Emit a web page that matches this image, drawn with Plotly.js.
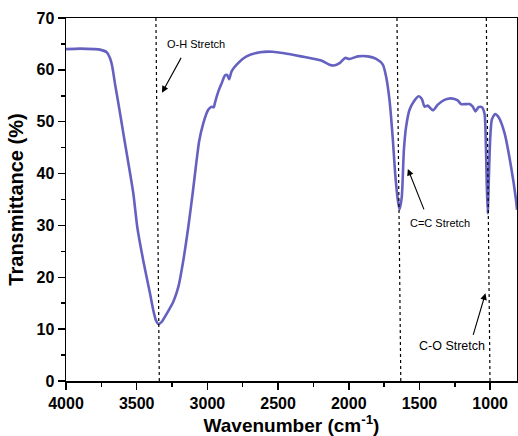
<!DOCTYPE html>
<html>
<head>
<meta charset="utf-8">
<script src="https://cdn.plot.ly/plotly-3.0.1.min.js"></script>
<style>html,body{margin:0;padding:0;background:#fff;}#chart{width:518px;height:436px;}</style>
</head>
<body>
<div id="chart"></div>
<script>
// FTIR spectrum
var wavenumber = [4000, 3900, 3800, 3760, 3712, 3689, 3673, 3654, 3630, 3606, 3583, 3560, 3524, 3496, 3454, 3406, 3383, 3364, 3347, 3320, 3300, 3241, 3205, 3170, 3135, 3104, 3076, 3058, 3029, 2994, 2970, 2954, 2947, 2923, 2899, 2876, 2860, 2846, 2829, 2793, 2723, 2628, 2540, 2454, 2337, 2195, 2136, 2105, 2065, 2026, 1994, 1936, 1865, 1806, 1759, 1736, 1712, 1688, 1672, 1653, 1641, 1625, 1610, 1594, 1570, 1540, 1506, 1483, 1464, 1441, 1405, 1370, 1323, 1276, 1229, 1206, 1146, 1123, 1104, 1082, 1059, 1040, 1031, 1024, 1017, 1010, 1000, 988, 965, 941, 898, 852, 817, 810];
var transmittance = [64.0, 64.1, 64.0, 63.9, 63.4, 62.3, 60.7, 57.4, 53.6, 49.7, 45.9, 42.2, 36.2, 29.7, 23.3, 16.9, 13.7, 11.7, 11.0, 11.5, 12.4, 15.3, 18.2, 23.3, 29.7, 36.2, 42.6, 46.3, 49.7, 52.3, 52.9, 52.8, 53.6, 55.8, 57.4, 58.9, 59.0, 58.2, 59.7, 61.0, 62.6, 63.4, 63.5, 63.2, 62.6, 61.8, 61.0, 60.85, 61.3, 62.3, 62.1, 62.6, 62.6, 62.1, 61.0, 58.7, 54.2, 46.5, 40.1, 34.9, 33.1, 35.5, 44.6, 49.1, 52.3, 53.9, 54.9, 54.4, 52.9, 53.1, 52.2, 53.3, 54.2, 54.5, 54.1, 53.4, 53.4, 52.9, 52.0, 52.8, 52.8, 51.6, 46.5, 38.1, 32.3, 38.2, 46.5, 50.4, 51.5, 50.9, 47.8, 41.3, 34.9, 33.0];

// Peak marker lines (top and bottom wavenumbers) and labels
var peakNames = ["O-H Stretch", "C=C Stretch", "C-O Stretch"];
var peakTopWn = [3364, 1659, 1027];
var peakBottomWn = [3340, 1632, 1001];
var labelWn = [3084, 1352, 1268];
var labelT = [65.0, 30.5, 6.8];
var labelSize = [11, 11, 12.5];
var arrowHeadWn = [3321, 1582, 1033];
var arrowHeadT = [55.6, 40.9, 16.9];
var arrowTailWn = [3180, 1464, 1123];
var arrowTailT = [62.6, 32.8, 8.6];

var fontFam = "Arial, 'Liberation Sans', sans-serif";

var shapes = [];
var annotations = [];
for (var i = 0; i < peakNames.length; i++) {
  shapes.push({type: 'line', xref: 'x', yref: 'y', x0: peakTopWn[i], y0: 70, x1: peakBottomWn[i], y1: 0,
    line: {color: '#000', width: 1.2, dash: 'dot'}});
  annotations.push({x: labelWn[i], y: labelT[i], xref: 'x', yref: 'y', text: peakNames[i], showarrow: false,
    font: {family: fontFam, size: labelSize[i], color: '#000'}});
  annotations.push({x: arrowHeadWn[i], y: arrowHeadT[i], xref: 'x', yref: 'y', ax: arrowTailWn[i], ay: arrowTailT[i],
    axref: 'x', ayref: 'y', text: '', showarrow: true, arrowhead: 2, arrowsize: 1.2, arrowwidth: 1.1, arrowcolor: '#000', standoff: 0, startstandoff: 0});
}

var trace = {x: wavenumber, y: transmittance, type: 'scatter', mode: 'lines',
  line: {color: '#6461c0', width: 2.6, shape: 'spline', smoothing: 0.6}, hoverinfo: 'skip'};

var layout = {
  width: 518, height: 436,
  margin: {l: 66, r: 1, t: 18, b: 55},
  paper_bgcolor: '#fff', plot_bgcolor: '#fff',
  showlegend: false,
  font: {family: fontFam, color: '#000'},
  xaxis: {
    range: [4000, 810], autorange: false, dtick: 500, tick0: 0,
    ticks: 'outside', ticklen: 7, tickwidth: 1.5, tickcolor: '#000',
    minor: {dtick: 250, ticks: 'outside', ticklen: 4, tickwidth: 1.5, tickcolor: '#000'},
    showline: true, linecolor: '#000', linewidth: 1.5, mirror: true,
    showgrid: false, zeroline: false,
    tickfont: {family: fontFam, size: 16, color: '#000', weight: 'bold'},
    title: {text: '<b>Wavenumber (cm<sup>-1</sup>)</b>', font: {family: fontFam, size: 19, color: '#000'}, standoff: 5}
  },
  yaxis: {
    range: [0, 70], autorange: false, dtick: 10,
    ticks: 'outside', ticklen: 7, tickwidth: 1.5, tickcolor: '#000',
    minor: {dtick: 5, ticks: 'outside', ticklen: 4, tickwidth: 1.5, tickcolor: '#000'},
    showline: true, linecolor: '#000', linewidth: 1.5, mirror: true,
    showgrid: false, zeroline: false,
    tickfont: {family: fontFam, size: 16, color: '#000', weight: 'bold'},
    title: {text: '<b>Transmittance (%)</b>', font: {family: fontFam, size: 20, color: '#000'}, standoff: 7}
  },
  shapes: shapes,
  annotations: annotations
};

Plotly.newPlot('chart', [trace], layout, {staticPlot: true, displayModeBar: false});
</script>
</body>
</html>
